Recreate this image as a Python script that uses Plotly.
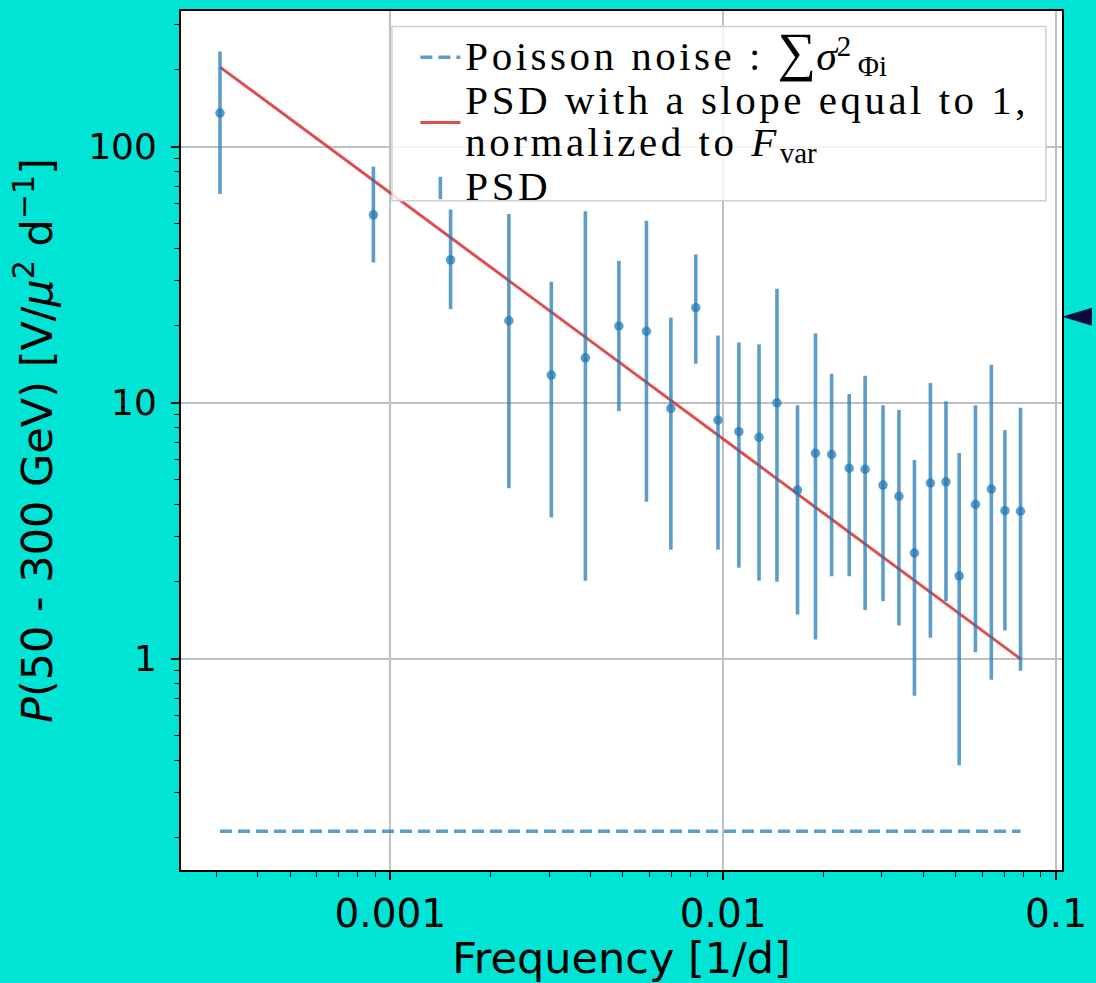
import plotly.graph_objects as go

# ---- data ----
freq = [3.08e-4, 8.90e-4, 1.518e-3, 2.272e-3, 3.047e-3, 3.857e-3, 4.862e-3, 5.884e-3,
        6.967e-3, 8.275e-3, 9.652e-3, 0.01115, 0.01282, 0.01451, 0.01673, 0.01894,
        0.02118, 0.02392, 0.02670, 0.03022, 0.03374, 0.03756, 0.04194, 0.04671,
        0.05118, 0.05727, 0.06394, 0.07023, 0.07822]
psd = [135.2, 54.2, 36.1, 20.9, 12.83, 14.98, 19.94, 19.02, 9.50, 23.5, 8.55, 7.71,
       7.33, 9.99, 4.56, 6.35, 6.28, 5.55, 5.50, 4.77, 4.31, 2.59, 4.86, 4.91, 2.11,
       4.01, 4.60, 3.79, 3.77]
psd_hi = [235.3, 83.6, 56.8, 54.6, 29.7, 55.9, 35.8, 51.4, 21.5, 37.96, 18.3, 17.2,
          16.9, 27.9, 9.78, 18.7, 12.98, 10.83, 12.75, 9.78, 9.38, 5.98, 11.95, 10.13,
          6.37, 9.78, 14.07, 7.82, 9.55]
psd_lo = [65.3, 35.3, 23.2, 4.64, 3.56, 2.02, 9.27, 4.11, 2.67, 14.2, 2.67, 2.27,
          2.02, 2.00, 1.49, 1.19, 2.10, 2.10, 1.55, 1.68, 1.35, 0.718, 1.21, 1.68,
          0.384, 1.06, 0.829, 1.29, 0.898]
slope_line_x = [freq[0], freq[-1]]
slope_line_y = [204.5, 1.0]
poisson_level = [0.212, 0.212]

err_plus = [h - v for h, v in zip(psd_hi, psd)]
err_minus = [v - l for v, l in zip(psd, psd_lo)]

BLUE = "rgba(31,119,180,0.72)"
RED = "rgba(214,39,40,0.82)"
BG = "#00E4D6"

LS = '<span style="font-size:41px;letter-spacing:3.5px">'
SM = '<span style="font-size:29px">'

fig = go.Figure()

fig.add_trace(go.Scatter(
    x=[freq[0], freq[-1]], y=poisson_level, mode="lines",
    line=dict(color=BLUE, width=3.5, dash="12px,6px"),
    name=LS + 'Poisson noise : </span><span style="font-size:54px">∑</span>'
         + '<span style="font-size:42px"><i>σ</i></span><sup>' + SM + '2</span></sup>'
         + '\u2009<sub>' + SM + 'Φi</span></sub>',
))
fig.add_trace(go.Scatter(
    x=slope_line_x, y=slope_line_y, mode="lines",
    line=dict(color=RED, width=3),
    name=LS + "PSD with a slope equal to 1,</span><br>" + LS + "normalized to <i>F</i></span>"
         + "<sub>" + SM + "var</span></sub>",
))
fig.add_trace(go.Scatter(
    x=freq, y=psd, mode="markers",
    marker=dict(color=BLUE, size=9.5),
    error_y=dict(type="data", symmetric=False, array=err_plus, arrayminus=err_minus,
                 color=BLUE, thickness=3.6, width=0),
    showlegend=False, name="PSD",
))
# legend entry for PSD (error-bar glyph)
fig.add_trace(go.Scatter(
    x=[None], y=[None], mode="markers",
    marker=dict(symbol="line-ns", size=28, line=dict(color=BLUE, width=3.6)),
    name=LS + "PSD</span>",
))

fig.update_layout(
    width=1096, height=983,
    margin=dict(l=181, r=29, t=9, b=110),
    paper_bgcolor=BG, plot_bgcolor="white",
    font=dict(family="DejaVu Sans", color="black"),
    showlegend=True,
    legend=dict(
        x=0.266, y=0.978, xanchor="left", yanchor="top",
        bgcolor="rgba(0,0,0,0)", borderwidth=0,
        font=dict(family="Liberation Serif", size=32, color="black"),
        tracegroupgap=0, itemwidth=40,
    ),
    shapes=[
        # legend frame (white, slightly translucent, drawn over the data)
        dict(type="rect", xref="paper", yref="paper", layer="above",
             x0=0.2395, x1=0.9817, y0=0.779, y1=0.982,
             fillcolor="rgba(255,255,255,0.82)", line=dict(color="#d0d0d0", width=1.5)),
        # dark arrow head at the right edge
        dict(type="path", xref="paper", yref="paper",
             path="M 1.0,0.6441 L 1.034,0.6545 L 1.034,0.6337 Z",
             fillcolor="#0a0a3c", line=dict(width=0)),
    ],
)

axis_common = dict(
    type="log", showline=True, mirror=True, linecolor="black", linewidth=1.5,
    ticks="outside", ticklen=8, tickwidth=1.5, tickcolor="black",
    showgrid=True, gridcolor="#c0c0c0", gridwidth=2,
    dtick=1, zeroline=False,
    minor=dict(ticks="outside", ticklen=5, tickwidth=1.2, tickcolor="black",
               dtick="D1", showgrid=False),
)

fig.update_xaxes(**axis_common, range=[-3.6286, -0.982],
                 tickfont=dict(family="DejaVu Sans", size=39, color="black"),
                 title=dict(text="Frequency [1/d]", standoff=8,
                            font=dict(family="DejaVu Sans", size=43, color="black")))
fig.update_yaxes(**axis_common, range=[-0.8245, 2.5297], ticksuffix="\u2009",
                 tickfont=dict(family="DejaVu Sans", size=36, color="black"),
                 title=dict(text="<i>P</i>(50 - 300 GeV) [V/<i>μ</i><sup>2</sup> d<sup>−1</sup>]",
                            standoff=22,
                            font=dict(family="DejaVu Sans", size=43, color="black")))

fig.write_html(
    "out.html",
    config={"displayModeBar": False},
    post_script="document.body.style.margin='0';document.body.style.padding='0';"
                "document.body.style.background='" + BG + "';",
)
